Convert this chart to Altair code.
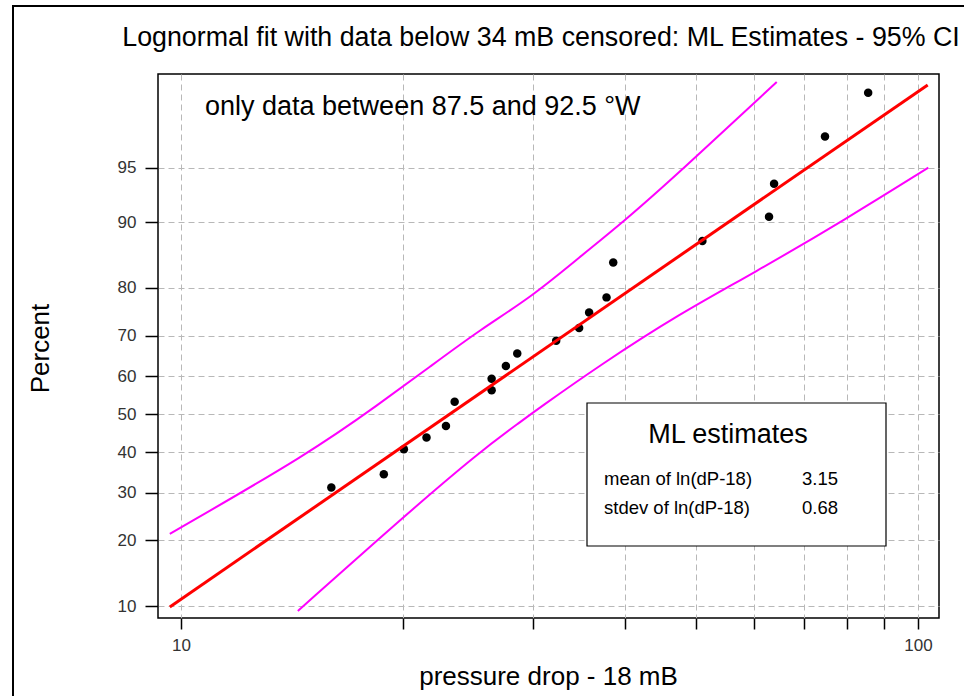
import altair as alt
import pandas as pd
from statistics import NormalDist

# ---- data ----
pt_x = [16.0, 18.85, 20.07, 21.54, 22.89, 23.52, 26.4, 26.4, 27.6, 28.6,
        32.3, 34.7, 35.8, 37.8, 38.6, 51.0, 62.8, 63.8, 74.8, 85.6]
pt_pct = [31.2, 34.4, 40.7, 43.8, 46.8, 53.3, 56.3, 59.3, 62.6, 65.7,
          68.8, 71.7, 75.1, 78.2, 84.4, 87.6, 90.6, 93.8, 96.8, 98.4]

fit_x = [9.66, 103.1]
fit_pct = [9.9, 98.6]

upper_x = [9.66, 14.96, 18.62, 21.77, 25.45, 29.91, 34.78, 39.83, 47.55, 64.33]
upper_pct = [21.2, 39.7, 52.8, 62.4, 71.3, 78.3, 85.3, 90.0, 94.7, 98.67]

lower_x = [14.41, 20.03, 25.45, 29.11, 30.38, 37.02, 47.55, 59.73, 80.05, 103.3]
lower_pct = [9.43, 24.6, 40.1, 48.4, 51.1, 62.8, 74.9, 82.6, 90.4, 95.0]

y_ticks_pct = [10, 20, 30, 40, 50, 60, 70, 80, 90, 95]
x_ticks = [10, 20, 30, 40, 50, 60, 70, 80, 90, 100]
x_domain = [9.31, 106.8]
pct_domain = [8.67, 98.84]

title = "Lognormal fit with data below 34 mB censored: ML Estimates - 95% CI"
note = "only data between 87.5 and 92.5 \u00b0W"
box_title = "ML estimates"
box_labels = ["mean of ln(dP-18)", "stdev of ln(dP-18)"]
box_values = ["3.15", "0.68"]

FONT = "Liberation Sans"
W, H = 781, 544

nd = NormalDist()
y_ticks_z = [nd.inv_cdf(p / 100) for p in y_ticks_pct]
z_domain = [nd.inv_cdf(p / 100) for p in pct_domain]

pts = pd.DataFrame({"x": pt_x, "pct": pt_pct})
fit = pd.DataFrame({"x": fit_x, "pct": fit_pct})
ci = pd.concat([
    pd.DataFrame({"x": upper_x, "pct": upper_pct, "band": "upper"}),
    pd.DataFrame({"x": lower_x, "pct": lower_pct, "band": "lower"}),
])

xs = alt.Scale(type="log", domain=x_domain, nice=False, zero=False)
ys = alt.Scale(domain=z_domain, nice=False, zero=False)

x_axis = alt.Axis(values=x_ticks, grid=True, gridDash=[6, 4], gridColor="#b8b8b8",
                  labelExpr="(datum.value == 10 || datum.value == 100) ? datum.label : ''",
                  tickSize=11, tickColor="black", tickWidth=1.5, domain=False,
                  labelFont=FONT, labelFontSize=17, labelColor="#333333", labelPadding=8,
                  title="pressure drop - 18 mB", titleFont=FONT, titleFontSize=26,
                  titleFontWeight="normal", titleColor="black",
                  titleX=390, titleY=58, titleBaseline="middle", titleAlign="center",
                  labelFlush=False, labelOverlap=False)
y_axis = alt.Axis(values=y_ticks_z, grid=True, gridDash=[6, 4], gridColor="#b8b8b8",
                  labelExpr="round(cumulativeNormal(datum.value) * 100)",
                  tickSize=13, tickColor="black", tickWidth=1.5, domain=False,
                  labelFont=FONT, labelFontSize=17, labelColor="#333333", labelPadding=9,
                  title="Percent", titleFont=FONT, titleFontSize=26,
                  titleFontWeight="normal", titleColor="black", titleAngle=-90,
                  titleX=-118, titleY=274, titleBaseline="middle", titleAlign="center",
                  labelFlush=False, labelOverlap=False)

zcalc = "quantileNormal(datum.pct / 100)"

base_pts = alt.Chart(pts).transform_calculate(z=zcalc)
points = base_pts.mark_circle(color="black", opacity=1, size=72).encode(
    x=alt.X("x:Q", scale=xs, axis=x_axis),
    y=alt.Y("z:Q", scale=ys, axis=y_axis),
)

fit_line = alt.Chart(fit).transform_calculate(z=zcalc).mark_line(
    color="#ff0000", strokeWidth=3).encode(
    x=alt.X("x:Q", scale=xs), y=alt.Y("z:Q", scale=ys))

ci_lines = alt.Chart(ci).transform_calculate(z=zcalc).mark_line(
    color="#ff00ff", strokeWidth=2, interpolate="basis").encode(
    x=alt.X("x:Q", scale=xs), y=alt.Y("z:Q", scale=ys), detail="band:N")

one = pd.DataFrame({"k": [0]})

frame = alt.Chart(one).mark_rect(fill=None, stroke="black", strokeWidth=2).encode(
    x=alt.value(-145), x2=alt.value(830), y=alt.value(-68), y2=alt.value(650))

title_txt = alt.Chart(one).mark_text(font=FONT, fontSize=26.8, color="black",
                                     align="center", baseline="middle").encode(
    x=alt.value(383), y=alt.value(-36), text=alt.value(title))

note_txt = alt.Chart(one).mark_text(font=FONT, fontSize=27, color="black",
                                    align="left", baseline="middle").encode(
    x=alt.value(47), y=alt.value(33), text=alt.value(note))

box = alt.Chart(one).mark_rect(fill="white", stroke="black", strokeWidth=1.2).encode(
    x=alt.value(429), x2=alt.value(728), y=alt.value(329), y2=alt.value(472))

box_t = alt.Chart(one).mark_text(font=FONT, fontSize=27, color="black",
                                 align="center", baseline="middle").encode(
    x=alt.value(570), y=alt.value(361), text=alt.value(box_title))

box_rows = pd.DataFrame({"lab": box_labels, "val": box_values, "row": [0, 1]})
row_scale = alt.Scale(domain=[0, 1], range=[405, 434])
box_lab = alt.Chart(box_rows).mark_text(font=FONT, fontSize=18.5, color="black",
                                        align="left", baseline="middle").encode(
    x=alt.value(446), y=alt.Y("row:Q", scale=row_scale, axis=None), text="lab:N")
box_val = alt.Chart(box_rows).mark_text(font=FONT, fontSize=18.5, color="black",
                                        align="left", baseline="middle").encode(
    x=alt.value(644), y=alt.Y("row:Q", scale=row_scale, axis=None), text="val:N")

chart = alt.layer(
    frame, points, ci_lines, fit_line, box, box_t, note_txt, title_txt
).resolve_scale(y="shared").properties(width=W, height=H)

chart = alt.layer(chart, alt.layer(box_lab, box_val)).resolve_scale(y="independent")

chart = chart.properties(
    autosize=alt.AutoSizeParams(type="none"),
    padding={"left": 158, "top": 74, "right": 25, "bottom": 78},
    background="white",
).configure_view(stroke="black", strokeWidth=1.5)

chart.save("out.html", embed_options={"renderer": "svg", "actions": False})
